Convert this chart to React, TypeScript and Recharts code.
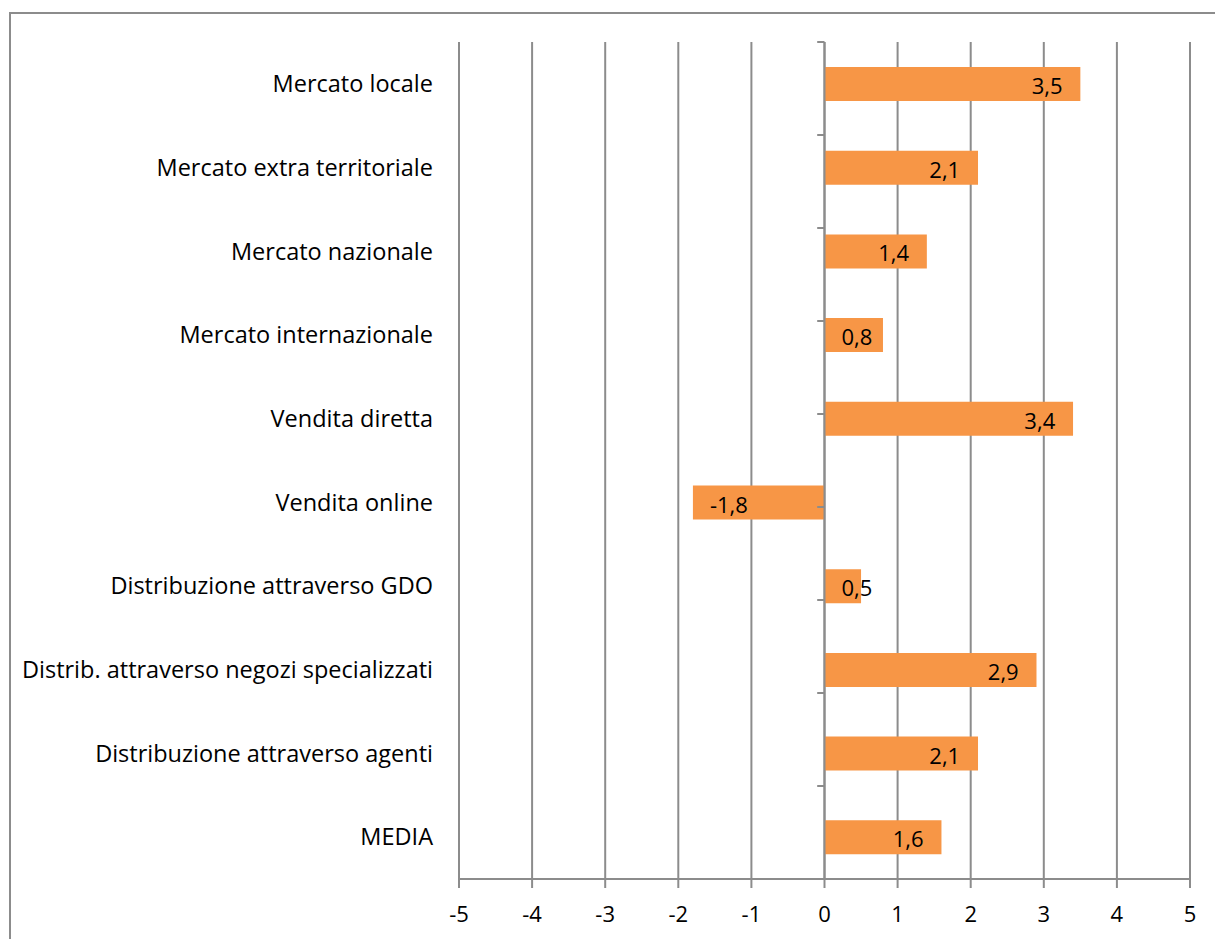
import React from 'react';
import {
  BarChart,
  Bar,
  XAxis,
  YAxis,
  CartesianGrid,
  ReferenceLine,
  LabelList,
} from 'recharts';

const categories = [
  'Mercato locale',
  'Mercato extra territoriale',
  'Mercato nazionale',
  'Mercato internazionale',
  'Vendita diretta',
  'Vendita online',
  'Distribuzione attraverso GDO',
  'Distrib. attraverso negozi specializzati',
  'Distribuzione attraverso agenti',
  'MEDIA',
];

const values = [3.5, 2.1, 1.4, 0.8, 3.4, -1.8, 0.5, 2.9, 2.1, 1.6];

const xTicks = [-5, -4, -3, -2, -1, 0, 1, 2, 3, 4, 5];

// category boundaries, used for the small marks on the zero axis
const boundaries = [0, 1, 2, 3, 4, 5, 6, 7, 8, 9, 10];

const FONT = '"Open Sans", Lato, sans-serif';
const FONT_SIZE = 22;
const CAT_FONT_SIZE = 23.5;
const GRID = '#8c8c8c';

const data = categories.map((name, i) => ({ name, value: values[i] }));

const fmt = (v: number) => v.toFixed(1).replace('.', ',');

// Excel-style "inside end" label: tucked into the bar end, pushed out when the bar is short
function InsideEndLabel(props: any) {
  const { x, y, width, height, value } = props;
  const v = Number(value);
  const text = fmt(v);
  const left = Math.min(x, x + width);
  const right = Math.max(x, x + width);
  const pad = 17;
  const w = text.length * FONT_SIZE * 0.48;
  let start: number;
  if (v >= 0) {
    start = Math.max(left + pad, right - pad - w);
  } else {
    start = left + pad;
  }
  return (
    <text
      x={start}
      y={y + height / 2 + 1}
      dominantBaseline="central"
      textAnchor="start"
      fill="#000"
      fontSize={FONT_SIZE}
      fontFamily={FONT}
    >
      {text}
    </text>
  );
}

export default function App() {
  return (
    <div
      style={{
        position: 'fixed',
        left: 9,
        top: 12,
        width: 1204,
        height: 927,
        borderTop: `2px solid ${GRID}`,
        borderLeft: `2px solid ${GRID}`,
        background: '#fff',
      }}
    >
      <BarChart
        width={1204}
        height={925}
        data={data}
        layout="vertical"
        margin={{ top: 28, right: 25, bottom: 0, left: 0 }}
      >
        <CartesianGrid horizontal={false} vertical stroke={GRID} strokeWidth={2} />
        <XAxis
          type="number"
          domain={[-5, 5]}
          ticks={xTicks}
          interval={0}
          height={60}
          axisLine={{ stroke: GRID, strokeWidth: 2 }}
          tickLine={{ stroke: GRID, strokeWidth: 2 }}
          tickSize={9}
          tickMargin={18}
          tick={{ fill: '#000', fontSize: FONT_SIZE, fontFamily: FONT }}
        />
        <YAxis
          type="category"
          dataKey="name"
          width={448}
          interval={0}
          axisLine={false}
          tickLine={false}
          tickSize={0}
          tickMargin={26}
          tick={{ fill: '#000', fontSize: CAT_FONT_SIZE, fontFamily: FONT }}
        />
        <YAxis yAxisId="edges" type="number" domain={[0, 10]} allowDataOverflow hide />
        <ReferenceLine x={0} stroke={GRID} strokeWidth={2} />
        {boundaries.map((b) => (
          <ReferenceLine
            key={b}
            yAxisId="edges"
            segment={[
              { x: -0.1, y: b },
              { x: 0, y: b },
            ]}
            stroke={GRID}
            strokeWidth={2}
          />
        ))}
        <Bar dataKey="value" fill="#F79646" barSize={34} isAnimationActive={false}>
          <LabelList dataKey="value" content={InsideEndLabel} />
        </Bar>
      </BarChart>
    </div>
  );
}
